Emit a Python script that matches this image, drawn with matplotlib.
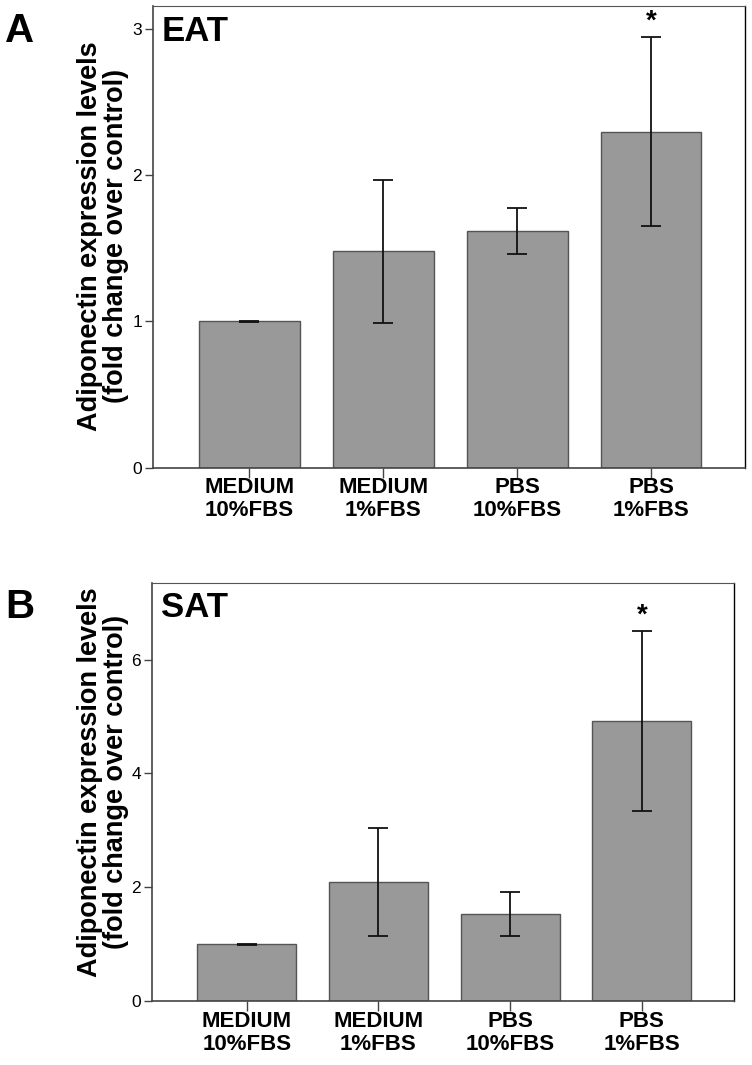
"""Adiponectin expression bar charts (EAT / SAT)."""

import matplotlib
matplotlib.use('Agg')
import matplotlib.pyplot as plt  # noqa: E402

plt.rcParams['font.family'] = ['Liberation Sans', 'DejaVu Sans']

# ---------------------------------------------------------------------------
# Data

categories = ['MEDIUM\n10%FBS', 'MEDIUM\n1%FBS', 'PBS\n10%FBS', 'PBS\n1%FBS']

eat_means = [1.0, 1.48, 1.62, 2.30]
eat_errors = [0.004, 0.49, 0.16, 0.645]
eat_stars = ['', '', '', '*']

sat_means = [1.0, 2.09, 1.53, 4.92]
sat_errors = [0.01, 0.95, 0.39, 1.58]
sat_stars = ['', '', '', '*']

# ---------------------------------------------------------------------------
# Figure

fig = plt.figure(figsize=(7.52, 10.65), dpi=100)

W, H = 752.0, 1065.0


def panel_axes(left, top, right, bottom):
    """Axes from pixel coordinates."""
    return fig.add_axes([left / W, 1 - bottom / H,
                         (right - left) / W, (bottom - top) / H])


def draw_panel(ax, means, errors, stars, title, ylim, yticks):
    x = range(len(categories))
    ax.bar(x, means, width=0.75, color='#999999', edgecolor='#555555',
           linewidth=1.0, zorder=2)
    ax.errorbar(x, means, yerr=errors, fmt='none', ecolor='#111111',
                elinewidth=1.3, capsize=7.5, capthick=1.3, zorder=3)
    for xi, m, e, s in zip(x, means, errors, stars):
        if s:
            ax.annotate(s, xy=(xi, m + e), xytext=(0, 2),
                        textcoords='offset points', ha='center', va='bottom',
                        fontsize=20, fontweight='bold')

    ax.set_xlim(-0.72, 3.7)
    ax.set_ylim(*ylim)
    ax.set_yticks(yticks)
    ax.set_xticks(list(x))
    ax.set_xticklabels(categories, fontsize=16, fontweight='bold',
                       linespacing=1.12)
    ax.tick_params(axis='y', direction='out', length=6, width=1.0,
                   color='#444444', labelsize=12.5, pad=2)
    ax.tick_params(axis='x', direction='out', length=7, width=1.0,
                   color='#444444', pad=0)
    for side in ['left', 'bottom']:
        ax.spines[side].set_color('#444444')
        ax.spines[side].set_linewidth(1.2)
    ax.spines['top'].set_color('#555555')
    ax.spines['right'].set_color('#000000')
    ax.spines['right'].set_linewidth(1.0)
    ax.text(0.015, 0.98, title, transform=ax.transAxes, ha='left', va='top',
            fontsize=25, fontweight='bold')


ylabel = 'Adiponectin expression levels\n(fold change over control)'

# Panel A
ax_a = panel_axes(153, 6, 745, 467.5)
draw_panel(ax_a, eat_means, eat_errors, eat_stars, 'EAT', (0, 3.16),
           [0, 1, 2, 3])
fig.text(103 / W, 1 - 236 / H, ylabel, rotation=90, ha='center',
         va='center', fontsize=19.5, fontweight='bold', linespacing=1.0)
fig.text(20 / W, 1 - 31 / H, 'A', ha='center', va='center', fontsize=29,
         fontweight='bold')

# Panel B
ax_b = panel_axes(152, 582.7, 734, 1001)
draw_panel(ax_b, sat_means, sat_errors, sat_stars, 'SAT', (0, 7.35),
           [0, 2, 4, 6])
fig.text(103 / W, 1 - 782 / H, ylabel, rotation=90, ha='center',
         va='center', fontsize=19.5, fontweight='bold', linespacing=1.0)
fig.text(20 / W, 1 - 607 / H, 'B', ha='center', va='center', fontsize=29,
         fontweight='bold')

fig.savefig('out.png', dpi=100)
